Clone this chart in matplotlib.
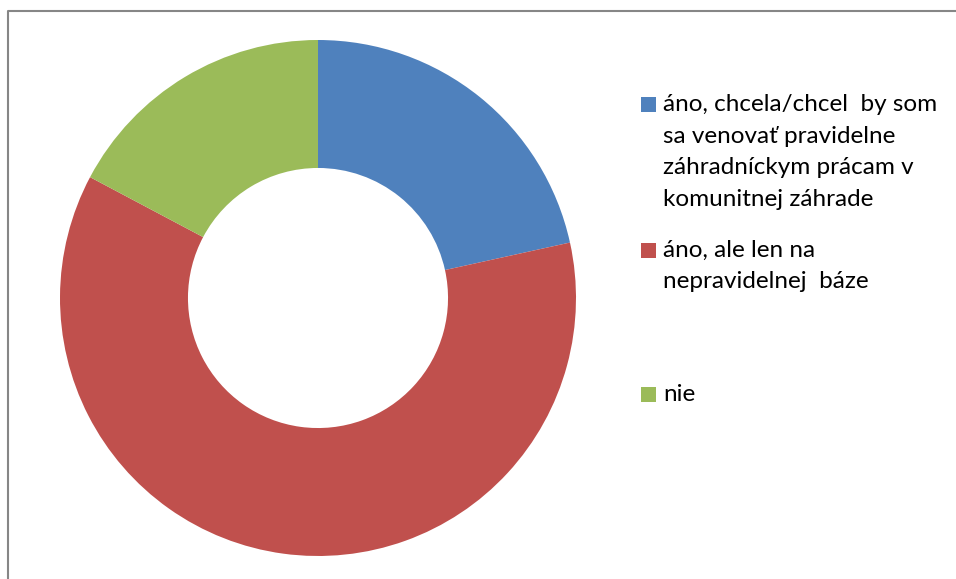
import matplotlib.pyplot as plt
from matplotlib.patches import Rectangle
from matplotlib.lines import Line2D

labels = ["áno, chcela/chcel  by som\nsa venovať pravidelne\nzáhradníckym prácam v\nkomunitnej záhrade",
          "áno, ale len na\nnepravidelnej  báze",
          "nie"]
values = [25, 71, 20]
colors = ["#4F81BD", "#C0504D", "#9BBB59"]

W, H = 956, 579
fig = plt.figure(figsize=(W / 100, H / 100), dpi=100)

# donut: center (318, 298) px, radius 258 px
cx, cy, r = 318, 298, 258
ax = fig.add_axes([(cx - r) / W, (H - cy - r) / H, 2 * r / W, 2 * r / H])
ax.pie(values, colors=colors, startangle=90, counterclock=False, radius=1,
       wedgeprops=dict(width=0.496, linewidth=0))
ax.set_xlim(-1, 1)
ax.set_ylim(-1, 1)
ax.set_aspect("equal")
ax.axis("off")

# chart frame (top and left edges visible)
fig.add_artist(Line2D([7.5 / W, 7.5 / W, 1], [0, 1 - 10.5 / H, 1 - 10.5 / H],
                      transform=fig.transFigure, color="#868686", lw=1.5))

# legend, drawn by hand to match the uneven spacing
entry_y = [104.5, 250, 394.5]
pitch = 31.7
for lab, col, y0 in zip(labels, colors, entry_y):
    fig.add_artist(Rectangle((641 / W, 1 - (y0 + 7.5) / H), 15 / W, 15 / H,
                             transform=fig.transFigure, color=col, lw=0))
    for i, line in enumerate(lab.split("\n")):
        fig.text(663 / W, 1 - (y0 + i * pitch) / H, line, fontsize=17.5,
                 family="Lato", va="center", ha="left", color="#000000")

fig.savefig("out.png", dpi=100)
